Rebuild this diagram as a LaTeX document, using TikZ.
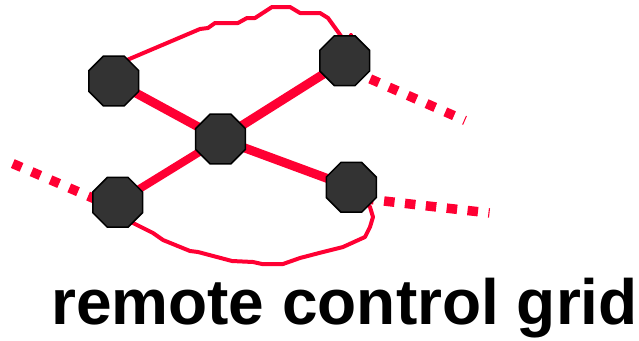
\documentclass[tikz,border=0pt]{standalone}
\usepackage{fontspec}
\setmainfont{Liberation Sans}
\usetikzlibrary{shapes.geometric,backgrounds}
\definecolor{rcred}{HTML}{FF0033}
\definecolor{rcnode}{HTML}{333333}
\tikzset{
  octnode/.style={regular polygon, regular polygon sides=8, minimum size=54pt,
    inner sep=0pt, fill=rcnode, draw=black, line width=1.5pt},
  link/.style={draw=rcred, line width=9pt},
  wire/.style={draw=rcred, line width=4pt, line join=round, line cap=round},
  dashlink/.style={draw=rcred, line width=9.5pt, dash pattern=on 9.5pt off 11pt},
  caption/.style={font=\fontsize{64}{64}\selectfont\bfseries, inner sep=0pt, anchor=base west}
}
\begin{document}
\begin{tikzpicture}[x=1pt,y=-1pt]
\useasboundingbox (0,0) rectangle (639,340);
\node[octnode] (A) at (113.8,81) {};
\node[octnode] (B) at (220.5,139) {};
\node[octnode] (C) at (117.7,202.3) {};
\node[octnode] (D) at (344.7,60.7) {};
\node[octnode] (E) at (351.3,187.3) {};
\coordinate (cl) at (12.8,163.6);
\coordinate (dr) at (465,120.5);
\coordinate (er) at (489.5,213);
\begin{scope}[on background layer]
  \draw[link] (A.center) -- (B.center);
  \draw[link] (B.center) -- (D.center);
  \draw[link, line width=8pt] (B.center) -- (C.center);
  \draw[link] (B.center) -- (E.center);
  \draw[dashlink] (cl) -- ([yshift=-6.5pt]C.center);
  \draw[dashlink, dash phase=8.5pt] (dr) -- ([yshift=-7pt]D.center);
  \draw[dashlink, dash pattern=on 10.5pt off 10.5pt, dash phase=9.4pt] (er) -- ([yshift=-10pt]E.center);
  \draw[wire] ([xshift=6pt,yshift=15pt]A.center) -- (127,60) -- (200,29) -- (208,28) -- (215,23) -- (238,23)
     -- (247,18) -- (255,18) -- (272,7) -- (290,7) -- (300,13) -- (320,13) -- (328,18)
     -- (341,36) -- (346,46) -- (351,35);
  \draw[wire] ([xshift=8pt,yshift=-12pt]C.center) -- (133,223) -- (153,233) -- (163,240) -- (190,251)
     -- (198,252) -- (232,261) -- (253,262) -- (262,264) -- (283,264) -- (300,258) -- (323,252)
     -- (343,247) -- (365,237) -- (370,227) -- (373,217) -- (370,207) -- ([xshift=10pt,yshift=-10pt]E.center);
\end{scope}
\node[caption] (T) at (51,324) {remote control grid};
\end{tikzpicture}
\end{document}
